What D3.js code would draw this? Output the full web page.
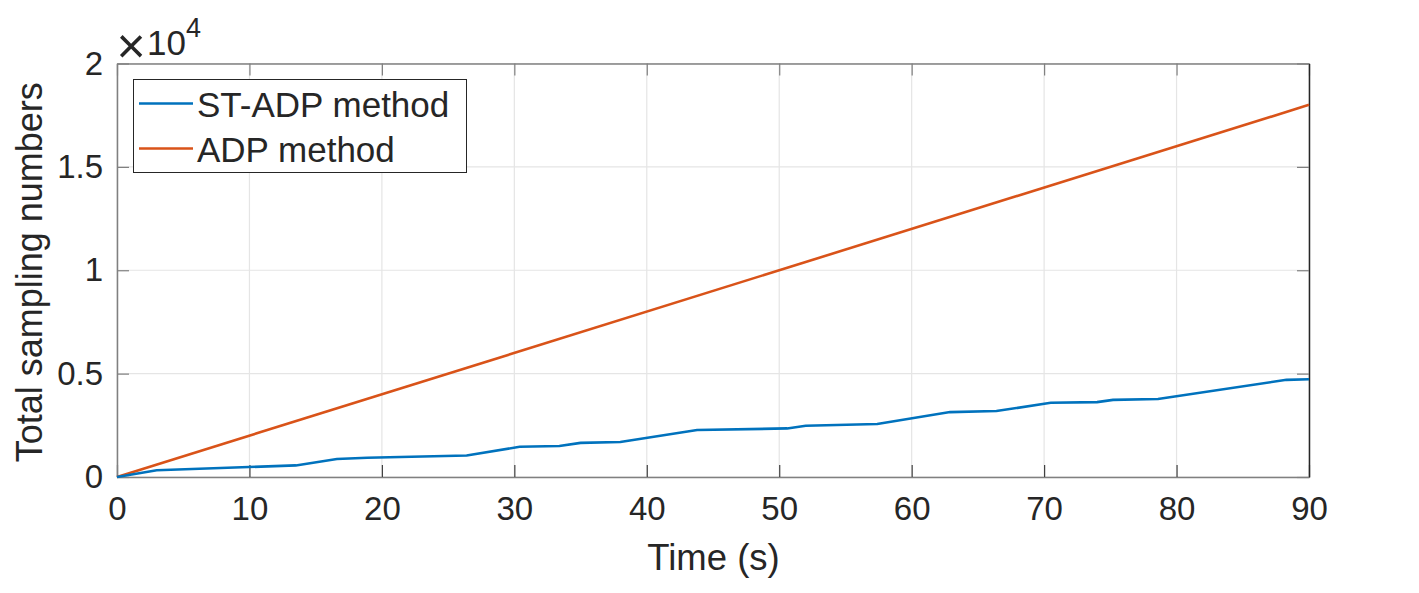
<!DOCTYPE html>
<html>
<head>
<meta charset="utf-8">
<script src="https://cdn.jsdelivr.net/npm/d3@7"></script>
<style>
  html, body { margin: 0; padding: 0; background: #fff; }
  svg { display: block; }
  text { font-family: "Liberation Sans", Arial, Helvetica, sans-serif; fill: #262626; }
</style>
</head>
<body>
<svg id="chart" width="1419" height="593"></svg>
<script>
// ---- data ----
const stTime   = [0, 3.0, 13.5, 16.6, 18.9, 26.4, 30.4, 33.4, 35.0, 38.0, 43.8, 50.6, 52.0, 57.4, 62.9, 66.4, 70.5, 74.0, 75.2, 78.6, 88.3, 90];
const stValues = [0, 330, 560, 870, 930, 1040, 1460, 1500, 1650, 1690, 2270, 2350, 2480, 2560, 3140, 3190, 3590, 3620, 3730, 3770, 4700, 4730];
const adpTime   = [0, 90];
const adpValues = [0, 18000];
const xTicks = [0, 10, 20, 30, 40, 50, 60, 70, 80, 90];
const yTicks = [0, 5000, 10000, 15000, 20000];
const yTickLabels = ["0", "0.5", "1", "1.5", "2"];
const seriesNames = ["ST-ADP method", "ADP method"];
const seriesColors = ["#0072BD", "#D95319"];

// ---- layout ----
const svg = d3.select("#chart");
const L = 117, R = 1309, T = 63.5, B = 477;
const x = d3.scaleLinear().domain([0, 90]).range([L, R]);
const y = d3.scaleLinear().domain([0, 20000]).range([B, T]);
const axisGray = "#808080";
const tickLen = 12;
const tickFont = "33px";

// grid
const grid = svg.append("g");
xTicks.forEach(t => {
  grid.append("line").attr("x1", x(t)).attr("x2", x(t)).attr("y1", T).attr("y2", B)
    .attr("stroke", "#e5e5e5").attr("stroke-width", 1.2);
});
yTicks.forEach(t => {
  grid.append("line").attr("x1", L).attr("x2", R).attr("y1", y(t)).attr("y2", y(t))
    .attr("stroke", "#e5e5e5").attr("stroke-width", 1.2);
});

// axes (inward ticks on all four sides)
const xAxisB = d3.axisBottom(x).tickValues(xTicks).tickSizeInner(-tickLen).tickSizeOuter(0).tickPadding(20).tickFormat(d3.format("d"));
const gxb = svg.append("g").attr("transform", `translate(0,${B})`).call(xAxisB);
gxb.select(".domain").attr("stroke", axisGray).attr("stroke-width", 1.5);
gxb.selectAll(".tick line").attr("stroke", "#404040").attr("stroke-width", 1.2);
gxb.selectAll(".tick text").style("font-size", tickFont).attr("fill", "#262626").attr("font-family", "Liberation Sans, Arial, sans-serif");

const xAxisT = d3.axisTop(x).tickValues(xTicks).tickSizeInner(-tickLen).tickSizeOuter(0).tickFormat("");
const gxt = svg.append("g").attr("transform", `translate(0,${T})`).call(xAxisT);
gxt.select(".domain").attr("stroke", axisGray).attr("stroke-width", 1.5);
gxt.selectAll(".tick line").attr("stroke", axisGray).attr("stroke-width", 1.2);

const yAxisL = d3.axisLeft(y).tickValues(yTicks).tickSizeInner(-tickLen).tickSizeOuter(0).tickPadding(14)
  .tickFormat((d, i) => yTickLabels[i]);
const gyl = svg.append("g").attr("transform", `translate(${L},0)`).call(yAxisL);
gyl.select(".domain").attr("stroke", axisGray).attr("stroke-width", 1.5);
gyl.selectAll(".tick line").attr("stroke", axisGray).attr("stroke-width", 1.2);
gyl.selectAll(".tick text").style("font-size", tickFont).attr("fill", "#262626").attr("font-family", "Liberation Sans, Arial, sans-serif");

const yAxisR = d3.axisRight(y).tickValues(yTicks).tickSizeInner(-tickLen).tickSizeOuter(0).tickFormat("");
const gyr = svg.append("g").attr("transform", `translate(${R},0)`).call(yAxisR);
gyr.select(".domain").attr("stroke", "#262626").attr("stroke-width", 1.5);
gyr.selectAll(".tick line").attr("stroke", axisGray).attr("stroke-width", 1.2);

// lines
const line = d3.line().x(d => x(d[0])).y(d => y(d[1]));
const stData = stTime.map((t, i) => [t, stValues[i]]);
const adpData = adpTime.map((t, i) => [t, adpValues[i]]);
svg.append("path").datum(adpData).attr("d", line).attr("fill", "none")
  .attr("stroke", seriesColors[1]).attr("stroke-width", 2.6);
svg.append("path").datum(stData).attr("d", line).attr("fill", "none")
  .attr("stroke", seriesColors[0]).attr("stroke-width", 2.6);

// axis labels
svg.append("text").attr("x", (L + R) / 2 + 0.5).attr("y", 570).attr("text-anchor", "middle")
  .style("font-size", "36.5px").text("Time (s)");
svg.append("text").attr("transform", `translate(42,${(T + B) / 2 + 2}) rotate(-90)`).attr("text-anchor", "middle")
  .style("font-size", "36px").text("Total sampling numbers");

// exponent
svg.append("text").attr("x", 131).attr("y", 46).attr("text-anchor", "middle").attr("dominant-baseline", "central")
  .style("font-size", "50px").attr("font-family", "Open Sans, Lato, sans-serif").style("font-weight", "300").text("\u00d7");
const ex = svg.append("text").attr("x", 147).attr("y", 55);
ex.append("tspan").style("font-size", "35px").text("10");
ex.append("tspan").attr("dy", -18).style("font-size", "27px").text("4");

// legend
const lg = svg.append("g");
lg.append("rect").attr("x", 133.5).attr("y", 79.5).attr("width", 333).attr("height", 93)
  .attr("fill", "#fff").attr("stroke", "#262626").attr("stroke-width", 1);
seriesNames.forEach((name, i) => {
  const cy = 103.5 + i * 45;
  lg.append("line").attr("x1", 139).attr("x2", 193).attr("y1", cy).attr("y2", cy)
    .attr("stroke", seriesColors[i]).attr("stroke-width", 2.6);
  lg.append("text").attr("x", 197).attr("y", cy + 13.5).style("font-size", "35px").attr("fill", "#000").text(name);
});
</script>
</body>
</html>
